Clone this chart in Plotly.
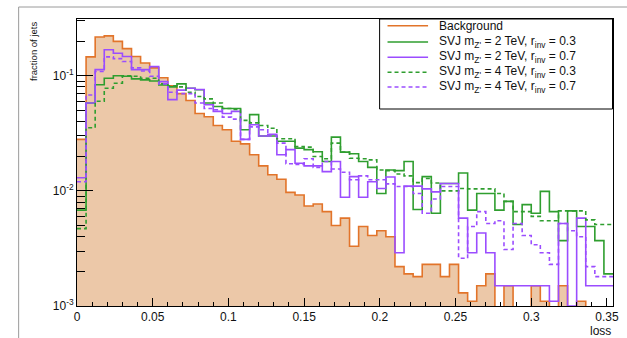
import numpy as np
import plotly.graph_objects as go

# ---------------- data (fraction of jets per bin) ----------------
bin_width = 0.006
n_bins = 59
x_tick_vals = [0, 0.05, 0.1, 0.15, 0.2, 0.25, 0.3, 0.35]
x_tick_text = ["0", "0.05", "0.1", "0.15", "0.2", "0.25", "0.3", "0.35"]
y_tick_vals = [1e-3, 1e-2, 1e-1]
y_tick_text = ["10<sup>-3</sup>", "10<sup>-2</sup>", "10<sup>-1</sup>"]

series_names = [
    "Background",
    "SVJ m<sub>Z'</sub> = 2 TeV, r<sub>inv</sub> = 0.3",
    "SVJ m<sub>Z'</sub> = 2 TeV, r<sub>inv</sub> = 0.7",
    "SVJ m<sub>Z'</sub> = 4 TeV, r<sub>inv</sub> = 0.3",
    "SVJ m<sub>Z'</sub> = 4 TeV, r<sub>inv</sub> = 0.7",
]

background = [
    0.028, 0.146, 0.217, 0.222, 0.199, 0.172, 0.147, 0.129, 0.117, 0.096,
    0.082, 0.070, 0.061, 0.047, 0.044, 0.037, 0.034, 0.027, 0.0256, 0.0206,
    0.0165, 0.0138, 0.0126, 0.0097, 0.0092, 0.0074, 0.0077, 0.0066, 0.0050, 0.0058,
    0.0033, 0.0049, 0.0041, 0.0045, 0.0040, 0.0022, 0.0019, 0.0018, 0.0023, 0.0023,
    0.0018, 0.0023, 0.0013, 0.0011, 0.0015, 0.0019, 0.0, 0.0015, 0.0, 0.0,
    0.0015, 0.0011, 0.0, 0.0015, 0.0, 0.0011, 0.0, 0.0, 0.0,
]
svj_2tev_03 = [
    0.0068, 0.058, 0.0835, 0.095, 0.100, 0.099, 0.094, 0.092, 0.090, 0.083,
    0.080, 0.085, 0.078, 0.0755, 0.058, 0.054, 0.052, 0.052, 0.034, 0.046,
    0.030, 0.030, 0.027, 0.027, 0.0235, 0.0228, 0.0219, 0.018, 0.0293, 0.0217,
    0.021, 0.018, 0.016, 0.0095, 0.0152, 0.015, 0.018, 0.0069, 0.0133, 0.0064,
    0.0116, 0.0116, 0.0143, 0.0068, 0.0095, 0.0095, 0.0068, 0.0081, 0.0051, 0.0076,
    0.0064, 0.0099, 0.0066, 0.0037, 0.0067, 0.0049, 0.0049, 0.0037, 0.0019,
]
svj_2tev_07 = [
    0.013, 0.058, 0.113, 0.168, 0.157, 0.147, 0.113, 0.113, 0.120, 0.089,
    0.062, 0.075, 0.078, 0.076, 0.056, 0.049, 0.047, 0.049, 0.028, 0.0375,
    0.030, 0.031, 0.0206, 0.0228, 0.0174, 0.0165, 0.0165, 0.0147, 0.018, 0.0088,
    0.0133, 0.0088, 0.012, 0.0105, 0.0132, 0.0029, 0.0110, 0.0110, 0.0104, 0.0098,
    0.0116, 0.0116, 0.0058, 0.0029, 0.0043, 0.0029, 0.0015, 0.0015, 0.0015, 0.0015,
    0.0015, 0.0015, 0.0011, 0.0052, 0.0010, 0.0058, 0.0015, 0.0015, 0.0015,
]
svj_4tev_03 = [
    0.0047, 0.0353, 0.060, 0.078, 0.086, 0.100, 0.099, 0.095, 0.095, 0.085,
    0.082, 0.080, 0.072, 0.066, 0.063, 0.058, 0.052, 0.051, 0.041, 0.039,
    0.037, 0.035, 0.0284, 0.0284, 0.0243, 0.024, 0.0199, 0.019, 0.026, 0.0217,
    0.0192, 0.019, 0.0186, 0.0152, 0.015, 0.014, 0.0135, 0.0118, 0.0128, 0.0117,
    0.0100, 0.0100, 0.0105, 0.0104, 0.0104, 0.0104, 0.0095, 0.0081, 0.0066, 0.0066,
    0.0060, 0.0055, 0.0055, 0.0067, 0.0067, 0.0067, 0.0056, 0.0051, 0.0051,
]
svj_4tev_07 = [
    0.012, 0.068, 0.109, 0.146, 0.141, 0.133, 0.117, 0.110, 0.099, 0.085,
    0.072, 0.070, 0.070, 0.058, 0.052, 0.0506, 0.0437, 0.042, 0.028, 0.036,
    0.034, 0.030, 0.026, 0.0172, 0.017, 0.019, 0.016, 0.018, 0.0155, 0.0145,
    0.0125, 0.0135, 0.0125, 0.0125, 0.0115, 0.0109, 0.0109, 0.0095, 0.0064, 0.0085,
    0.0109, 0.0109, 0.0026, 0.0049, 0.0066, 0.0052, 0.0055, 0.0031, 0.0052, 0.0041,
    0.0034, 0.0029, 0.0023, 0.0052, 0.0045, 0.0040, 0.0022, 0.0018, 0.0018,
]

# ---------------- styles ----------------
ORANGE = "#E2742A"
FILL = "#ECC8A8"
GREEN = "#2F9E2F"
PURPLE = "#9B4DFF"
FONT = "Liberation Sans, Arial, Helvetica, sans-serif"

edges = np.round(np.arange(n_bins + 1) * bin_width, 6)
centers = (edges[:-1] + edges[1:]) / 2


def step(vals):
    v = np.asarray(vals, dtype=float)
    v = np.where(v > 0, v, 1e-7)  # empty bins drop below the axis
    return edges, np.append(v, v[-1])


fig = go.Figure()

fig.add_trace(go.Bar(x=centers, y=background, width=bin_width,
                     marker=dict(color=FILL, line=dict(width=0)),
                     showlegend=False, hoverinfo="skip"))

styles = [
    (background, ORANGE, "solid"),
    (svj_2tev_03, GREEN, "solid"),
    (svj_2tev_07, PURPLE, "solid"),
    (svj_4tev_03, GREEN, "4px,3px"),
    (svj_4tev_07, PURPLE, "4px,3px"),
]
for (vals, col, dash), name in zip(styles, series_names):
    xs, ys = step(vals)
    fig.add_trace(go.Scatter(x=xs, y=ys, mode="lines", name=name,
                             line=dict(color=col, width=1.6, dash=dash, shape="hv"),
                             showlegend=False))

# ---------------- geometry helpers (pixels -> paper) ----------------
W, H = 627, 338
L, R, T, B = 77, 8, 19, 32
pw, ph = W - L - R, H - T - B


def px(x):
    return (x - L) / pw


def py(y):
    return (H - B - y) / ph


shapes = []
annotations = []

# canvas border (grey)
shapes.append(dict(type="line", xref="paper", yref="paper", x0=px(18), x1=px(640),
                   y0=py(7), y1=py(7), line=dict(color="#9a9a9a", width=1)))
shapes.append(dict(type="line", xref="paper", yref="paper", x0=px(18), x1=px(18),
                   y0=py(7), y1=py(345), line=dict(color="#9a9a9a", width=1)))

# legend box
shapes.append(dict(type="rect", xref="paper", yref="paper", x0=px(383), x1=px(618.5),
                   y0=py(109), y1=py(19), line=dict(color="black", width=1),
                   fillcolor="white", layer="above"))
rows = [25.7, 42.0, 57.3, 72.3, 87.0]
leg_styles = [(ORANGE, "solid"), (GREEN, "solid"), (PURPLE, "solid"),
              (GREEN, "4px,3px"), (PURPLE, "4px,3px")]
for ry, (col, dash), name in zip(rows, leg_styles, series_names):
    shapes.append(dict(type="line", xref="paper", yref="paper", x0=px(391), x1=px(432),
                       y0=py(ry), y1=py(ry), line=dict(color=col, width=1.6, dash=dash),
                       layer="above"))
    annotations.append(dict(text=name, xref="paper", yref="paper", x=px(441.5), y=py(ry),
                            xanchor="left", yanchor="middle", showarrow=False,
                            font=dict(size=12, color="#111", family=FONT)))

# axis titles
annotations.append(dict(text="fraction of jets", xref="paper", yref="paper",
                        x=px(33), y=py(20), textangle=-90, xanchor="center", yanchor="top",
                        showarrow=False, font=dict(size=9.5, color="#111", family=FONT)))
annotations.append(dict(text="loss", xref="paper", yref="paper",
                        x=px(619), y=py(322), xanchor="right", yanchor="top",
                        showarrow=False, font=dict(size=12, color="#111", family=FONT)))

minor_y = [m * 10.0 ** e for e in (-3, -2) for m in range(2, 10)] + [0.2, 0.3]

fig.update_layout(
    width=W, height=H,
    margin=dict(l=L, r=R, t=T, b=B, pad=0),
    paper_bgcolor="white", plot_bgcolor="white",
    bargap=0, barmode="overlay",
    showlegend=False,
    font=dict(family=FONT, size=12, color="#111"),
    shapes=shapes, annotations=annotations,
    xaxis=dict(range=[0, edges[-1]], tickmode="array", tickvals=x_tick_vals,
               ticktext=x_tick_text, ticks="inside", ticklen=8, tickwidth=1,
               tickcolor="black", showline=True, linecolor="black", linewidth=1,
               mirror=True, showgrid=False, zeroline=False,
               tickfont=dict(size=12, color="#111", family=FONT),
               minor=dict(tickmode="array", tickvals=list(np.round(np.arange(0, 0.355, 0.01), 3)),
                          ticks="inside", ticklen=4, tickcolor="black", showgrid=False)),
    yaxis=dict(type="log", range=[-3, -0.507], tickmode="array", tickvals=y_tick_vals,
               ticktext=y_tick_text, ticks="inside", ticklen=16, tickwidth=1,
               tickcolor="black", showline=True, linecolor="black", linewidth=1,
               mirror=True, showgrid=False, zeroline=False,
               tickfont=dict(size=12, color="#111", family=FONT),
               minor=dict(tickmode="array", tickvals=minor_y, ticks="inside",
                          ticklen=8, tickcolor="black", showgrid=False)),
)

fig.write_html("out.html", config={"displayModeBar": False})
